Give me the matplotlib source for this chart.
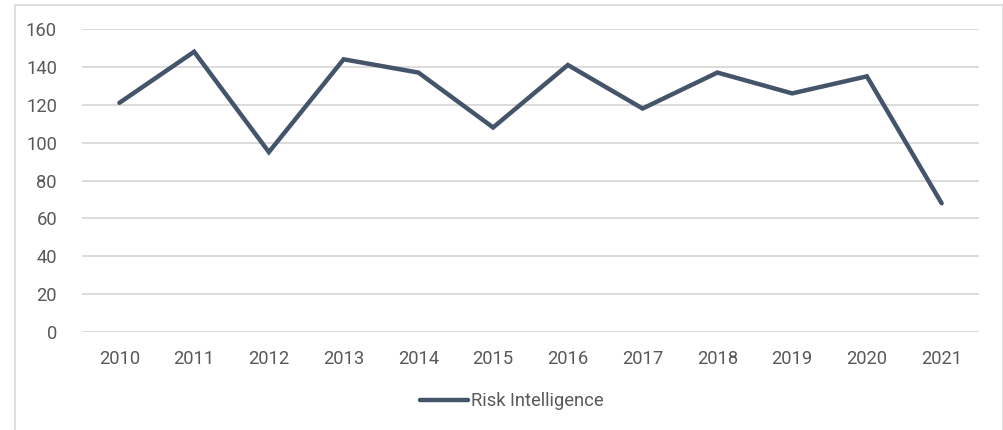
import matplotlib
matplotlib.use("Agg")
import matplotlib.pyplot as plt
from matplotlib.patches import Rectangle

years = ["2010", "2011", "2012", "2013", "2014", "2015", "2016", "2017", "2018", "2019", "2020", "2021"]
risk_intelligence = [121, 148, 95, 144, 137, 108, 141, 118, 137, 126, 135, 68]
y_ticks = [0, 20, 40, 60, 80, 100, 120, 140, 160]

plt.rcParams['font.family'] = ['Roboto', 'DejaVu Sans']

W, H = 1004, 430
fig = plt.figure(figsize=(W / 100, H / 100), dpi=100)
ax = fig.add_axes([82 / W, 1 - 332 / H, (979 - 82) / W, (332 - 29) / H])

x = list(range(len(years)))
line, = ax.plot(x, risk_intelligence, color="#44546A", linewidth=3.2,
                solid_capstyle="round", solid_joinstyle="miter", label="Risk Intelligence", zorder=3)

ax.set_xlim(-0.5, len(years) - 0.5)
ax.set_ylim(0, 160)
ax.set_yticks(y_ticks)
ax.set_xticks(x)
ax.set_xticklabels(years)
ax.grid(axis="y", color="#d9d9d9", linewidth=1.3)
ax.set_axisbelow(True)
for s in ax.spines.values():
    s.set_visible(False)
ax.tick_params(axis="both", length=0, labelsize=13.2, colors="#595959")
ax.tick_params(axis="y", pad=18)
ax.tick_params(axis="x", pad=13)

leg = fig.legend(handles=[line], loc="center", bbox_to_anchor=(512 / W, 1 - 401 / H),
                 frameon=False, fontsize=13.2, handlelength=2.6, handletextpad=0.15)
for t in leg.get_texts():
    t.set_color("#595959")

fig.patches.append(Rectangle((15 / W, -0.05), (1003 - 15) / W, 1.05 - 5 / H,
                             transform=fig.transFigure, fill=False,
                             edgecolor="#d9d9d9", linewidth=1.2))

fig.savefig("out.png", dpi=100, facecolor="white")
